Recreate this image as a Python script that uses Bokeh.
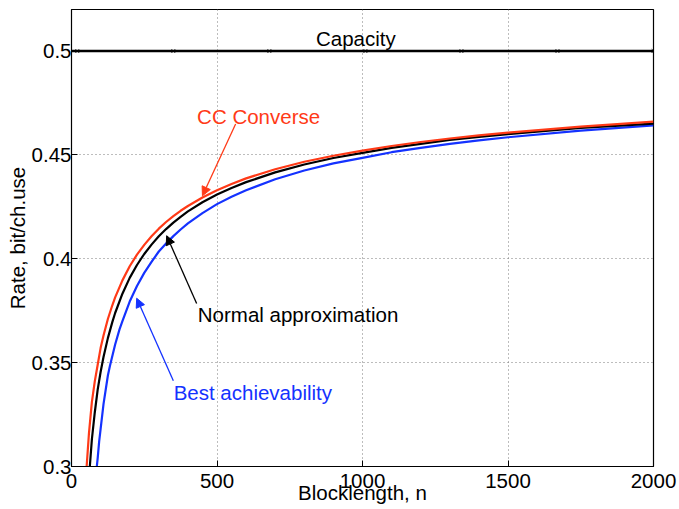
from bokeh.plotting import figure
from bokeh.models import Label, Arrow, NormalHead, FixedTicker
from bokeh.embed import file_html
from bokeh.resources import INLINE

# Rate vs. blocklength, three bounds plus channel capacity
cc_n = [50, 52, 60, 70, 80, 90, 100, 110, 125, 140, 150, 175, 200, 225, 250, 275,
        300, 325, 350, 375, 400, 450, 500, 550, 600, 700, 800, 900, 1000, 1100,
        1200, 1300, 1400, 1500, 1750, 2000]
cc_rate = [0.297, 0.300, 0.316, 0.331, 0.341, 0.349, 0.357, 0.3631, 0.371, 0.3775,
           0.3814, 0.3896, 0.3964, 0.4020, 0.4067, 0.4108, 0.4145, 0.4177, 0.4205,
           0.4231, 0.4254, 0.4295, 0.4330, 0.4360, 0.4387, 0.4431, 0.4467, 0.4496,
           0.4521, 0.4543, 0.4562, 0.4579, 0.4594, 0.4607, 0.4636, 0.4660]

na_n = [61, 63, 70, 80, 90, 100, 110, 125, 140, 150, 175, 200, 225, 250, 275, 300,
        325, 350, 375, 400, 450, 500, 550, 600, 700, 800, 900, 1000, 1100, 1200,
        1300, 1400, 1500, 1750, 2000]
na_rate = [0.297, 0.300, 0.313, 0.326, 0.337, 0.3455, 0.3527, 0.3618, 0.3694, 0.3739,
           0.3832, 0.3908, 0.3970, 0.4023, 0.4068, 0.4108, 0.4143, 0.4174, 0.4202,
           0.4228, 0.4272, 0.4309, 0.4341, 0.4369, 0.4416, 0.4454, 0.4485, 0.4510,
           0.4534, 0.4553, 0.4572, 0.4587, 0.4600, 0.4630, 0.4651]

ba_n = [84, 87, 90, 95, 100, 110, 125, 132, 150, 165, 175, 200, 225, 250, 275, 300,
        325, 350, 375, 400, 450, 500, 550, 600, 700, 800, 900, 1000, 1100, 1200,
        1300, 1400, 1500, 1750, 2000]
ba_rate = [0.295, 0.300, 0.304, 0.312, 0.318, 0.330, 0.3438, 0.3484, 0.3587, 0.366,
           0.370, 0.3794, 0.3869, 0.3932, 0.3985, 0.4035, 0.4073, 0.4109, 0.4141,
           0.4170, 0.4220, 0.4263, 0.4299, 0.4330, 0.4383, 0.4425, 0.4459, 0.4486,
           0.4513, 0.4534, 0.4553, 0.4570, 0.4585, 0.4617, 0.4642]

cap_n = [0, 2000]
cap_rate = [0.5, 0.5]
cap_marker_n = [20, 350, 680, 1010, 1340, 1670, 2000]
cap_marker_rate = [0.5] * len(cap_marker_n)

x_ticks = [0, 500, 1000, 1500, 2000]
y_ticks = [0.3, 0.35, 0.4, 0.45, 0.5]
y_tick_labels = ["0.3", "0.35", "0.4", "0.45", "0.5"]

RED = "#FF3A17"
BLUE = "#1432FF"
FONT = "Liberation Sans"
FS = "20.5px"

p = figure(width=679, height=509, x_range=(0, 2000), y_range=(0.3, 0.52),
           output_backend="svg", toolbar_location=None,
           min_border_left=71, min_border_right=26, min_border_top=9,
           min_border_bottom=43)
p.background_fill_color = "white"
p.border_fill_color = "white"
p.outline_line_color = "black"
p.outline_line_width = 1.2
p.outline_line_alpha = 1.0

# dotted grid
for g in (p.xgrid, p.ygrid):
    g.grid_line_color = "#7a7a7a"
    g.grid_line_dash = "1 3"
    g.grid_line_width = 1
p.xgrid.ticker = FixedTicker(ticks=x_ticks)
p.ygrid.ticker = FixedTicker(ticks=y_ticks)

# axes with inward ticks
p.xaxis.ticker = FixedTicker(ticks=x_ticks)
p.yaxis.ticker = FixedTicker(ticks=y_ticks)
p.yaxis.major_label_overrides = {t: s for t, s in zip(y_ticks, y_tick_labels)}
p.xaxis.major_label_overrides = {t: str(t) for t in x_ticks}
for ax in (p.xaxis[0], p.yaxis[0]):
    ax.major_tick_in = 6
    ax.major_tick_out = 0
    ax.minor_tick_in = 0
    ax.minor_tick_out = 0
    ax.axis_line_color = "black"
    ax.major_tick_line_color = "black"
    ax.major_label_text_font = FONT
    ax.major_label_text_font_size = FS
    ax.major_label_text_color = "black"
    ax.axis_label_text_font = FONT
    ax.axis_label_text_font_size = FS
    ax.axis_label_text_font_style = "normal"
    ax.axis_label_text_color = "black"
p.xaxis.axis_label = "Blocklength, n"
p.yaxis.axis_label = "Rate, bit/ch.use"
p.xaxis.major_label_standoff = 7
p.xaxis.axis_label_standoff = -10
p.yaxis.major_label_standoff = 0
p.yaxis.axis_label_standoff = 0

# capacity
p.line(cap_n, cap_rate, line_color="black", line_width=2.5)
p.scatter(cap_marker_n, cap_marker_rate, marker="x", size=5, line_color="black",
          line_width=1)

# bounds
p.line(ba_n, ba_rate, line_color=BLUE, line_width=2.2)
p.line(na_n, na_rate, line_color="black", line_width=2.2)
p.line(cc_n, cc_rate, line_color=RED, line_width=2.2)

# curve annotations
p.add_layout(Label(x=977, y=0.5058, text="Capacity", text_font=FONT,
                   text_font_size=FS, text_color="black",
                   text_align="center", text_baseline="middle"))
p.add_layout(Label(x=643, y=0.4686, text="CC Converse", text_font=FONT,
                   text_font_size=FS, text_color=RED,
                   text_align="center", text_baseline="middle"))
p.add_layout(Label(x=434, y=0.3734, text="Normal approximation", text_font=FONT,
                   text_font_size=FS, text_color="black",
                   text_align="left", text_baseline="middle"))
p.add_layout(Label(x=351, y=0.3354, text="Best achievability", text_font=FONT,
                   text_font_size=FS, text_color=BLUE,
                   text_align="left", text_baseline="middle"))

p.add_layout(Arrow(end=NormalHead(size=9, fill_color=RED, line_color=RED),
                   x_start=564, y_start=0.4649, x_end=450, y_end=0.4303,
                   line_color=RED, line_width=1.3))
p.add_layout(Arrow(end=NormalHead(size=9, fill_color="black", line_color="black"),
                   x_start=430, y_start=0.3785, x_end=327, y_end=0.4111,
                   line_color="black", line_width=1.3))
p.add_layout(Arrow(end=NormalHead(size=9, fill_color=BLUE, line_color=BLUE),
                   x_start=350, y_start=0.3413, x_end=224, y_end=0.3810,
                   line_color=BLUE, line_width=1.3))

open("out.html", "w").write(file_html(p, INLINE))
